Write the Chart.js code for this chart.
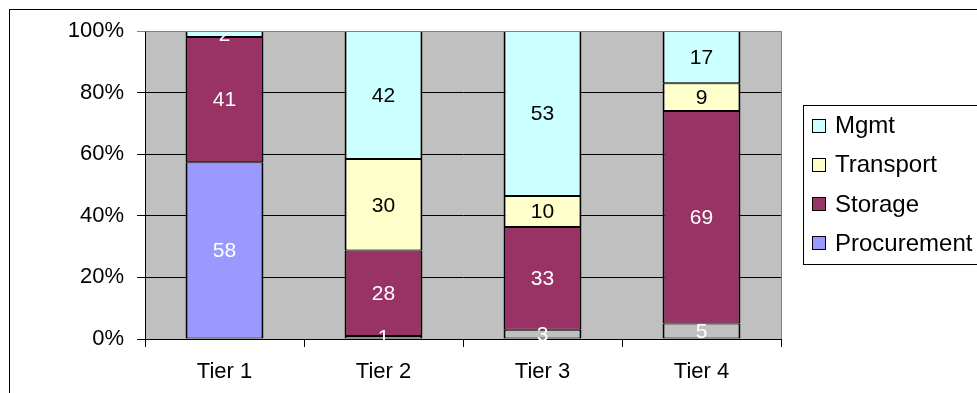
<!DOCTYPE html>
<html>
<head>
<meta charset="utf-8">
<script src="https://cdn.jsdelivr.net/npm/chart.js@4/dist/chart.umd.min.js"></script>
<style>
  html, body { margin: 0; padding: 0; background: #fff; }
  canvas { display: block; }
</style>
</head>
<body>
<canvas id="c" width="977" height="393"></canvas>
<script>
// Cost breakdown by tier (raw shares; each column is drawn as 100% stacked)
const categories  = ['Tier 1', 'Tier 2', 'Tier 3', 'Tier 4'];
const procurement = [58, 1, 3, 5];
const storage     = [41, 28, 33, 69];
const transport   = [0, 30, 10, 9];
const mgmt        = [2, 42, 53, 17];
const yTicks      = [0, 20, 40, 60, 80, 100];

const FONT = 'Liberation Sans, Arial, sans-serif';

// Normalise every column to 100%; empty segments are left out
const totals = categories.map((_, i) => procurement[i] + storage[i] + transport[i] + mgmt[i]);
const toPct = arr => arr.map((v, i) => (v ? v / totals[i] * 100 : null));

const datasets = [
  { label: 'Procurement', raw: procurement, data: toPct(procurement),
    backgroundColor: ['#9999FF', '#C0C0C0', '#C0C0C0', '#C0C0C0'], legendColor: '#9999FF',
    labelColor: ['#fff', '#fff', '#fff', '#fff'] },
  { label: 'Storage', raw: storage, data: toPct(storage),
    backgroundColor: '#993366', legendColor: '#993366',
    labelColor: ['#fff', '#fff', '#fff', '#fff'] },
  { label: 'Transport', raw: transport, data: toPct(transport),
    backgroundColor: '#FFFFCC', legendColor: '#FFFFCC',
    labelColor: ['#000', '#000', '#000', '#000'] },
  { label: 'Mgmt', raw: mgmt, data: toPct(mgmt),
    backgroundColor: '#CCFFFF', legendColor: '#CCFFFF',
    labelColor: ['#fff', '#000', '#000', '#000'] }
].map(d => Object.assign(d, {
  borderColor: '#000',
  borderWidth: { left: 2, right: 2, top: 1, bottom: 1 },
  borderSkipped: false,
  barPercentage: 0.49, categoryPercentage: 1.0
}));

// Outer frame + grey plot area behind grid and bars
const frame = {
  id: 'frame',
  beforeDraw(chart) {
    const { ctx, chartArea: a } = chart;
    ctx.save();
    ctx.fillStyle = '#fff';
    ctx.fillRect(0, 0, chart.width, chart.height);
    ctx.strokeStyle = '#000';
    ctx.lineWidth = 1;
    ctx.strokeRect(9.5, 9.5, 1200, 600);
    ctx.fillStyle = '#C0C0C0';
    ctx.fillRect(a.left, a.top, a.right - a.left, a.bottom - a.top);
    ctx.restore();
  },
  afterDraw(chart) {
    const { ctx, chartArea: a } = chart;
    ctx.save();
    ctx.strokeStyle = '#808080';
    ctx.lineWidth = 1;
    ctx.beginPath();
    ctx.moveTo(Math.round(a.left) + 0.5, Math.round(a.top) + 0.5);
    ctx.lineTo(Math.round(a.right) + 0.5, Math.round(a.top) + 0.5);
    ctx.lineTo(Math.round(a.right) + 0.5, Math.round(a.bottom));
    ctx.stroke();
    ctx.restore();
  }
};

// Value labels centred in each segment
const segLabels = {
  id: 'segLabels',
  afterDatasetsDraw(chart) {
    const { ctx } = chart;
    ctx.save();
    ctx.font = '21px ' + FONT;
    ctx.textAlign = 'center';
    ctx.textBaseline = 'middle';
    chart.data.datasets.forEach((ds, di) => {
      const meta = chart.getDatasetMeta(di);
      meta.data.forEach((el, i) => {
        const v = ds.raw[i];
        if (!v) return;
        const p = el.getProps(['x', 'y', 'base'], true);
        ctx.fillStyle = ds.labelColor[i];
        ctx.fillText(String(v), p.x, (p.y + p.base) / 2 + 1);
      });
    });
    ctx.restore();
  }
};

// Boxed legend on the right, top series first
const boxLegend = {
  id: 'boxLegend',
  afterDraw(chart) {
    const { ctx } = chart;
    const dsets = chart.data.datasets.slice().reverse();
    ctx.save();
    ctx.strokeStyle = '#000';
    ctx.lineWidth = 1;
    ctx.strokeRect(803.5, 105.5, 300, 159);
    ctx.font = '24px ' + FONT;
    ctx.textAlign = 'left';
    ctx.textBaseline = 'middle';
    dsets.forEach((ds, k) => {
      const cy = 125.5 + k * 39.3;
      ctx.fillStyle = ds.legendColor;
      ctx.fillRect(812.5, Math.round(cy - 7) + 0.5, 13, 13);
      ctx.strokeStyle = '#000';
      ctx.strokeRect(812.5, Math.round(cy - 7) + 0.5, 13, 13);
      ctx.fillStyle = '#000';
      ctx.fillText(ds.label, 835, cy + 1);
    });
    ctx.restore();
  }
};

new Chart(document.getElementById('c'), {
  type: 'bar',
  data: { labels: categories, datasets },
  options: {
    responsive: false,
    animation: false,
    devicePixelRatio: 1,
    layout: { padding: { top: 31, right: 196, left: 0, bottom: 0 } },
    plugins: { legend: { display: false }, tooltip: { enabled: false } },
    scales: {
      x: {
        stacked: true,
        afterFit(s) { s.height = 54; },
        grid: { offset: true, drawOnChartArea: false, tickLength: 8, color: '#000' },
        border: { color: '#000', width: 1 },
        ticks: { color: '#000', font: { family: FONT, size: 22 }, padding: 12 }
      },
      y: {
        stacked: true,
        min: 0, max: 100,
        afterFit(s) { s.width = 145; },
        afterBuildTicks(s) { s.ticks = yTicks.map(v => ({ value: v })); },
        grid: {
          tickLength: 8,
          color: c => (c.tick && c.tick.value === 100 ? '#808080' : '#000')
        },
        border: { color: '#000', width: 1 },
        ticks: {
          color: '#000', font: { family: FONT, size: 22 }, padding: 13,
          callback: v => v + '%'
        }
      }
    }
  },
  plugins: [frame, segLabels, boxLegend]
});
</script>
</body>
</html>
